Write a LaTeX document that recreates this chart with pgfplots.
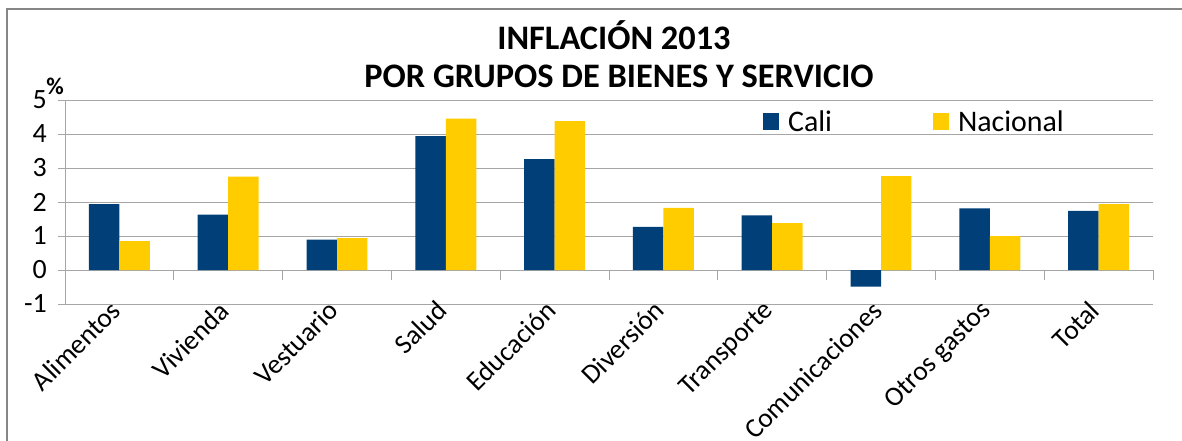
\documentclass[border=0pt]{standalone}
\usepackage{pgfplots}
\pgfplotsset{compat=1.18}
\usepackage{fontspec}
\setmainfont{Carlito}
\definecolor{cali}{RGB}{0,63,119}
\definecolor{nac}{RGB}{255,204,0}
\definecolor{gridc}{RGB}{166,166,166}
\definecolor{framec}{RGB}{134,134,134}
\begin{document}
\begin{tikzpicture}
\useasboundingbox (0bp,0bp) rectangle (1182bp,441bp);
\draw[framec, line width=1.5bp] (7bp,-10bp) -- (7bp,432bp) -- (1200bp,432bp);
\node[font=\fontsize{34.5}{36}\selectfont\bfseries, anchor=base] at (614bp,391bp) {INFLACIÓN 2013};
\node[font=\fontsize{34.5}{36}\selectfont\bfseries, anchor=base] at (619bp,353bp) {POR GRUPOS DE BIENES Y SERVICIO};
\node[font=\fontsize{24}{24}\selectfont\bfseries] at (55bp,355bp) {\%};
\begin{axis}[at={(65bp,137bp)}, anchor=south west, scale only axis,
  width=1088bp, height=204bp,
  xmin=-0.5, xmax=9.5, ymin=-1, ymax=5, ytick={-1,0,...,5},
  xtick={0,...,9},
  xticklabels={Alimentos,Vivienda,Vestuario,Salud,Educación,Diversión,Transporte,Comunicaciones,Otros gastos,Total},
  axis x line*=bottom, axis y line*=left,
  axis line style={gridc, line width=1bp},
  ymajorgrids, grid style={gridc, line width=1bp},
  x tick style={draw=none}, y tick style={gridc, line width=1bp},
  tick align=outside, major tick length=7bp,
  /pgf/number format/assume math mode=true,
  yticklabel style={font=\fontsize{28}{28}\selectfont, anchor=east, inner sep=0pt, xshift=-11bp},
  xticklabel style={font=\fontsize{27.5}{27.5}\selectfont, rotate=45, anchor=north east, inner sep=0pt, xshift=1bp, yshift=16bp},
  legend columns=2,
  legend style={at={(0.6415,0.895)}, anchor=west, draw=none, fill=none, inner sep=0pt,
    font=\fontsize{30}{30}\selectfont,
    /tikz/every odd column/.append style={column sep=7bp},
    /tikz/every even column/.append style={column sep=99bp}},
  clip=false]
\addplot[ybar, bar width=0.28, bar shift=-0.14, fill=cali, draw=none,
  legend image code/.code={\fill[cali] (0bp,-8.5bp) rectangle (16bp,8.5bp);}]
  coordinates {(0,1.94) (1,1.63) (2,0.89) (3,3.94) (4,3.26) (5,1.27) (6,1.61) (7,-0.49) (8,1.81) (9,1.74)};
\addlegendentry{Cali}
\addplot[ybar, bar width=0.28, bar shift=0.14, fill=nac, draw=none,
  legend image code/.code={\fill[nac] (0bp,-8.5bp) rectangle (16bp,8.5bp);}]
  coordinates {(0,0.85) (1,2.75) (2,0.94) (3,4.45) (4,4.38) (5,1.83) (6,1.38) (7,2.76) (8,1.00) (9,1.94)};
\addlegendentry{Nacional}
\pgfplotsinvokeforeach{-0.5,0.5,...,9.5}{\draw[gridc, line width=1bp] (axis cs:#1,0) -- ++(0pt,-10bp);}
\end{axis}
\end{tikzpicture}
\end{document}
